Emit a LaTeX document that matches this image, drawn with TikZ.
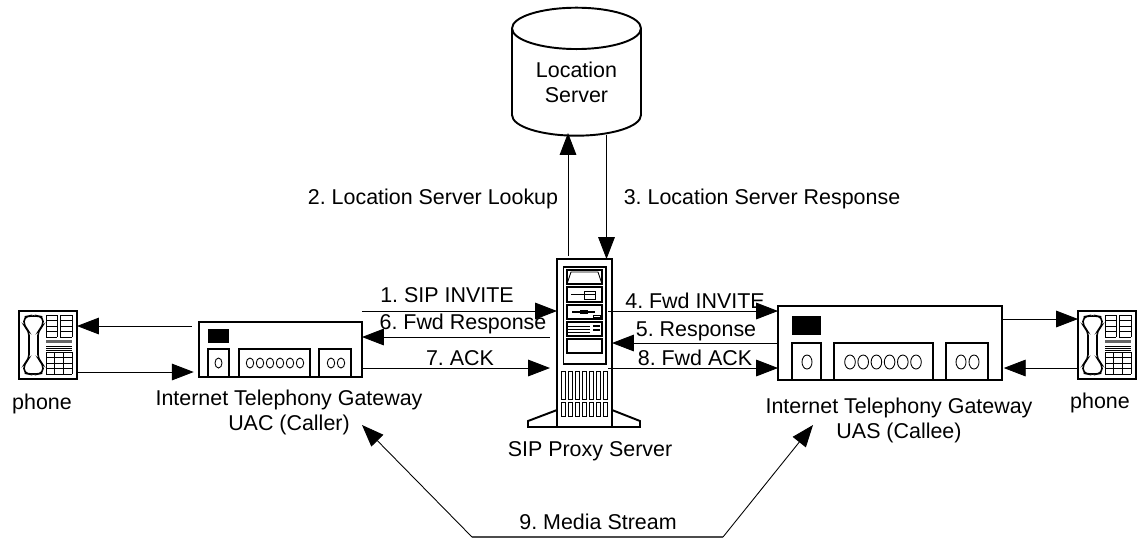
\documentclass[tikz,border=0pt]{standalone}
\usepackage{fontspec}
\setmainfont{Liberation Sans}
\usetikzlibrary{arrows.meta,shapes.geometric}
\frenchspacing

\tikzset{
  flow/.style={line width=0.5pt, -{Triangle[length=12.5pt,width=9.5pt]}},
  box/.style={draw, line width=1.1pt, inner sep=0pt, outer sep=0pt},
  part/.style={draw, line width=0.6pt},
  lbl/.style={inner sep=0pt, align=center, font=\fontsize{12.2}{14.2}\selectfont},
  phoneicon/.pic={
    \draw[line width=0.9pt, rounded corners=2.5pt] (10,5) -- (5,6) -- (5,15) -- (10,20) -- (10,48) -- (5,53) -- (5,62) -- (10,63) -- (19,63) -- (24,62) -- (24,53) -- (19,48) -- (19,20) -- (24,15) -- (24,6) -- (19,5) -- cycle;
    \foreach \y in {4,9.5,15,20.5,26} {
      \draw[line width=0.5pt] (27,\y) -- (38,\y);
      \draw[line width=0.5pt] (41,\y) -- (53,\y);
    }
    \foreach \x in {27,38,41,53}
      \draw[line width=0.5pt] (\x,4) -- (\x,26);
    \fill[black!60] (27,29) rectangle (53,32);
    \foreach \y in {35,37,39}
      \draw[line width=0.5pt] (27,\y) -- (53,\y);
    \foreach \y in {41,46.5,52,57.5,63}
      \draw[line width=0.5pt] (27,\y) -- (53,\y);
    \foreach \x in {27,35.7,44.3,53}
      \draw[line width=0.5pt] (\x,41) -- (\x,63);
  }
}

\begin{document}
\begin{tikzpicture}[x=0.02cm, y=-0.02cm]
  \useasboundingbox (0,0) rectangle (1141,539);

  \node[box, minimum width=1.16cm, minimum height=1.36cm] (phoneL) at (48,345) {};
  \node[box, minimum width=1.16cm, minimum height=1.36cm] (phoneR) at (1107,345) {};
  \pic at (19,311) {phoneicon};
  \pic at (1078,311) {phoneicon};

  \node[box, minimum width=3.26cm, minimum height=1.1cm] (uac) at (280.5,349.5) {};
  \node[box, minimum width=4.48cm, minimum height=1.48cm] (uas) at (890,343) {};
  \node[box, minimum width=1.1cm, minimum height=3.36cm] (proxy) at (584.5,343) {};
  \node[cylinder, draw, line width=1.1pt, shape border rotate=90, aspect=0.51, minimum width=2.58cm, minimum height=2.56cm, inner sep=0pt, outer sep=0pt, lbl] (lserver) at (576.5,82.5) {Location\\Server};

  % left gateway
  \fill (208,329) rectangle (229,343);
  \draw[part] (208,377) |- (229,349) -- (229,377);
  \draw[part] (239,377) |- (310,349) -- (310,377);
  \draw[part] (319,377) |- (351,349) -- (351,377);
  \draw[line width=0.5pt] (218.5,363) ellipse (3.5 and 5);
  \foreach \x in {250,260,270,280,290,300}
    \draw[line width=0.5pt] (\x,363) ellipse (3.7 and 5);
  \foreach \x in {331,341}
    \draw[line width=0.5pt] (\x,363) ellipse (3.7 and 5);

  % right gateway
  \fill (792,316) rectangle (821,335);
  \draw[part] (792,380) |- (821,343) -- (821,380);
  \draw[part] (834,380) |- (933,343) -- (933,380);
  \draw[part] (946,380) |- (988,343) -- (988,380);
  \draw[line width=0.5pt] (807,362) ellipse (5 and 7);
  \foreach \x in {850,863.2,876.4,889.6,902.8,916}
    \draw[line width=0.5pt] (\x,362) ellipse (5.3 and 7);
  \foreach \x in {961,974}
    \draw[line width=0.5pt] (\x,362) ellipse (5 and 7);

  % server front
  \draw[line width=1.1pt] (563.5,267) rectangle (606,364);
  \foreach \y/\e in {270/284,287/302,305/319,322/336,339/353}
    \draw[part] (567,\y) rectangle (602,\e);
  \draw[line width=0.5pt] (567,284) -- (571,272) -- (598,272) -- (602,284);
  \draw[line width=0.7pt] (571,294.5) -- (596,294.5);
  \draw[line width=0.5pt] (584,291) rectangle (595,299);
  \draw[line width=0.7pt] (572,312) -- (595,312);
  \fill (580,310) rectangle (588,314);
  \draw[line width=0.5pt] (593,315) rectangle (600,317.5);
  \foreach \y in {326,329,332,335}
    \draw[line width=0.5pt] (568,\y) -- (590,\y);
  \fill (593,325) rectangle (600,327);
  \fill (593,329) rectangle (600,331);
  \foreach \i in {0,...,6} {
    \draw[line width=0.5pt] (561+7.1*\i,371) rectangle (565+7.1*\i,399);
    \draw[line width=0.5pt] (561+7.1*\i,402) rectangle (565+7.1*\i,416);
  }
  \draw[line width=1.1pt] (proxy.west |- 0,410) -- (528,421) -- (528,427) -- (640,427) -- (640,421) -- (proxy.east |- 0,410);

  % phones and gateways
  \draw[flow, shorten <=4pt] (uac.west |- 0,326) -- (phoneL.east |- 0,326);
  \draw[flow, shorten >=3pt] (phoneL.east |- 0,372) -- (uac.west |- 0,372);
  \draw[flow] (uas.east |- 0,319) -- (phoneR.west |- 0,319);
  \draw[flow, shorten >=1pt] (phoneR.west |- 0,368) -- (uas.east |- 0,368);

  % signalling
  \draw[flow] (uac.east |- 0,311) -- (proxy.west |- 0,311);
  \draw[flow, shorten <=4pt] (proxy.west |- 0,337) -- (uac.east |- 0,337);
  \draw[flow, shorten >=4pt] (uac.east |- 0,368) -- (proxy.west |- 0,368);
  \draw[flow, shorten <=-2pt] (proxy.east |- 0,311) -- (uas.west |- 0,311);
  \draw[flow] (uas.west |- 0,343) -- (proxy.east |- 0,343);
  \draw[flow, shorten <=-2pt] (proxy.east |- 0,368) -- (uas.west |- 0,368);

  \coordinate (lookupTop) at (568,133);
  \coordinate (responseTop) at (606.5,135);
  \draw[flow, shorten <=2pt] (lookupTop |- proxy.north) -- (lookupTop);
  \draw[flow] (responseTop) -- (responseTop |- proxy.north);

  % media stream
  \coordinate (mediaL) at (472,537);
  \coordinate (mediaR) at (723,537);
  \coordinate (uacTip) at (362,425);
  \coordinate (uasTip) at (813,425);
  \draw[flow] (mediaL) -- (uacTip);
  \draw[flow] (mediaR) -- (uasTip);
  \draw[line width=0.7pt, black!70] (mediaL) -- (mediaR);

  \node[lbl] (l1) at (447,295) {1. SIP INVITE};
  \node[lbl] (l6) at (463,324) {6. Fwd Response};
  \node[lbl] (l7) at (460,358) {7. ACK};
  \node[lbl] (l4) at (695,301) {4. Fwd INVITE};
  \node[lbl] (l5) at (696,331) {5. Response};
  \node[lbl] (l8) at (695,358) {8. Fwd ACK};
  \node[lbl] (l2) at (433,199) {2. Location Server Lookup};
  \node[lbl] (l3) at (762,199) {3. Location Server Response};
  \node[lbl] (l9) at (598,522) {9. Media Stream};
  \node[lbl] (tPhoneL) at (42,404) {phone};
  \node[lbl] (tPhoneR) at (1100,403) {phone};
  \node[lbl] (tUac) at (289,412) {Internet Telephony Gateway\\UAC (Caller)};
  \node[lbl] (tUas) at (899,420) {Internet Telephony Gateway\\UAS (Callee)};
  \node[lbl] (tProxy) at (590,451) {SIP Proxy Server};
\end{tikzpicture}
\end{document}
